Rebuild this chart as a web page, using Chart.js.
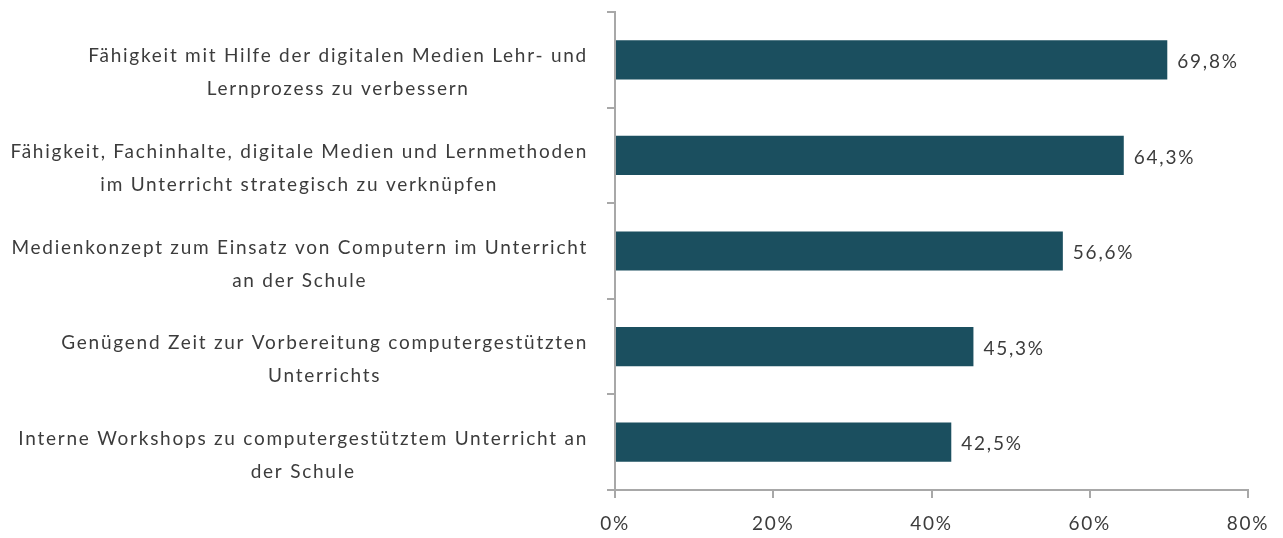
<!DOCTYPE html>
<html>
<head>
<meta charset="utf-8">
<script src="https://cdn.jsdelivr.net/npm/chart.js@4"></script>
<style>
html,body{margin:0;padding:0;background:#fff;}
#wrap{width:1283px;height:538px;position:relative;}
</style>
</head>
<body>
<div id="wrap"><canvas id="c" width="1283" height="538"></canvas></div>
<script>
const categories = [
  ["Fähigkeit mit Hilfe der digitalen Medien Lehr- und", "Lernprozess zu verbessern"],
  ["Fähigkeit, Fachinhalte, digitale Medien und Lernmethoden", "im Unterricht strategisch zu verknüpfen"],
  ["Medienkonzept zum Einsatz von Computern im Unterricht", "an der Schule"],
  ["Genügend Zeit zur Vorbereitung computergestützten", "Unterrichts"],
  ["Interne Workshops zu computergestütztem Unterricht an", "der Schule"]
];
const values = [69.8, 64.3, 56.6, 45.3, 42.5];
const xTicks = [0, 20, 40, 60, 80];

const FONT = "Lato";
const TEXT = "#3c3c3c";
const AXIS = "#a8a8a8";
const LS = "1.75px";

const fmt = v => v.toFixed(1).replace('.', ',') + '%';

const spacing = {
  id: 'spacing',
  beforeDraw(chart) { chart.ctx.letterSpacing = LS; }
};

const categoryLabels = {
  id: 'categoryLabels',
  afterDraw(chart) {
    const ctx = chart.ctx;
    const y = chart.scales.y;
    const rightEdge = y.right - 27;
    ctx.save();
    ctx.letterSpacing = LS;
    ctx.font = "19px " + FONT;
    ctx.fillStyle = TEXT;
    ctx.textAlign = 'center';
    ctx.textBaseline = 'middle';
    categories.forEach((lines, i) => {
      const cy = y.getPixelForValue(i);
      const w = Math.max(...lines.map(l => ctx.measureText(l).width));
      const cx = rightEdge - w / 2;
      const lh = 33;
      const start = cy + 13 - (lines.length - 1) * lh / 2;
      lines.forEach((l, j) => ctx.fillText(l, cx, start + j * lh));
    });
    ctx.restore();
  }
};

const valueLabels = {
  id: 'valueLabels',
  afterDatasetsDraw(chart) {
    const ctx = chart.ctx;
    const meta = chart.getDatasetMeta(0);
    ctx.save();
    ctx.letterSpacing = LS;
    ctx.font = "19px " + FONT;
    ctx.fillStyle = TEXT;
    ctx.textAlign = 'left';
    ctx.textBaseline = 'middle';
    meta.data.forEach((bar, i) => {
      ctx.fillText(fmt(values[i]), bar.x + 10, bar.y + 2);
    });
    ctx.restore();
  }
};

new Chart(document.getElementById('c'), {
  type: 'bar',
  data: {
    labels: categories,
    datasets: [{
      data: values,
      backgroundColor: '#1b4f5f',
      borderWidth: 0,
      categoryPercentage: 1,
      barPercentage: 0.41
    }]
  },
  options: {
    indexAxis: 'y',
    responsive: false,
    animation: false,
    layout: { padding: { top: 12, right: 35, bottom: 0, left: 0 } },
    plugins: { legend: { display: false }, tooltip: { enabled: false } },
    scales: {
      x: {
        min: 0, max: 80,
        afterBuildTicks(scale) { scale.ticks = xTicks.map(v => ({ value: v })); },
        afterFit(scale) { scale.height = 48; },
        ticks: {
          callback: v => v + '%',
          color: TEXT,
          font: { family: FONT, size: 19 },
          padding: 14,
          maxRotation: 0
        },
        grid: { drawOnChartArea: false, drawTicks: true, tickLength: 8, color: AXIS, lineWidth: 2 },
        border: { display: true, color: AXIS, width: 2 }
      },
      y: {
        afterFit(scale) { scale.width = 615; scale.paddingTop = 0; scale.paddingBottom = 0; },
        ticks: { display: false },
        grid: { drawOnChartArea: false, drawTicks: true, tickLength: 8, color: AXIS, lineWidth: 2, offset: true },
        border: { display: true, color: AXIS, width: 2 }
      }
    }
  },
  plugins: [spacing, categoryLabels, valueLabels]
});
</script>
</body>
</html>
